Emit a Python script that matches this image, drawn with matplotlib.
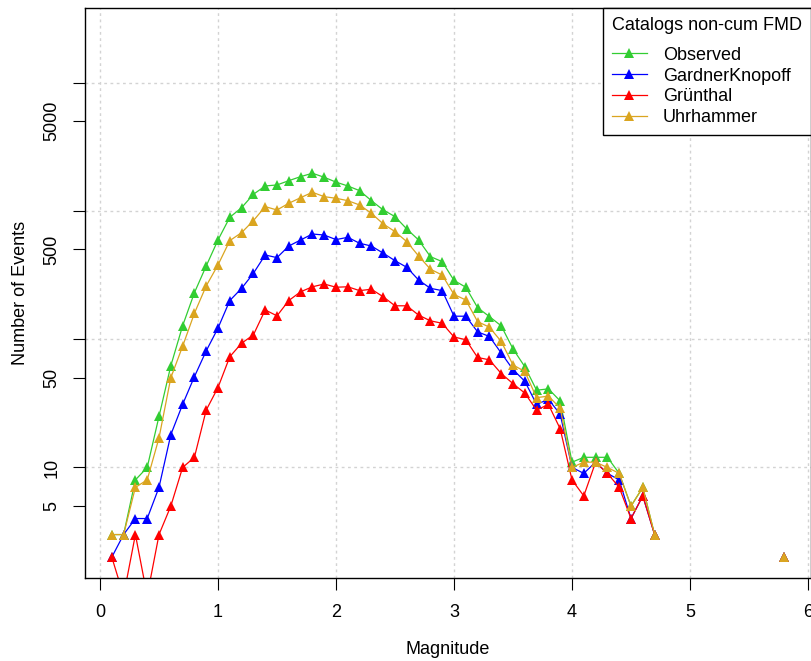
import numpy as np
import matplotlib
matplotlib.use("Agg")
import matplotlib.pyplot as plt

# Non-cumulative frequency-magnitude distribution for several declustered catalogs
nan = np.nan

magnitude = [0.1, 0.2, 0.3, 0.4, 0.5, 0.6, 0.7, 0.8, 0.9, 1.0,
             1.1, 1.2, 1.3, 1.4, 1.5, 1.6, 1.7, 1.8, 1.9, 2.0,
             2.1, 2.2, 2.3, 2.4, 2.5, 2.6, 2.7, 2.8, 2.9, 3.0,
             3.1, 3.2, 3.3, 3.4, 3.5, 3.6, 3.7, 3.8, 3.9, 4.0,
             4.1, 4.2, 4.3, 4.4, 4.5, 4.6, 4.7, 4.8, 4.9, 5.0,
             5.1, 5.2, 5.3, 5.4, 5.5, 5.6, 5.7, 5.8]

observed = [3, 3, 8, 10, 25, 62, 127, 230, 372, 593,
            891, 1059, 1346, 1563, 1592, 1719, 1848, 1964, 1827, 1675,
            1563, 1437, 1201, 1016, 902, 722, 593, 440, 402, 287,
            254, 176, 150, 127, 84, 61, 40, 41, 33, 11,
            12, 12, 12, 9, 5, 7, 3, nan, nan, nan,
            nan, nan, nan, nan, nan, nan, nan, 2]

gardner_knopoff = [2, 3, 4, 4, 7, 18, 31, 51, 81, 122,
                   200, 249, 326, 453, 432, 532, 593, 660, 648, 597,
                   622, 559, 532, 468, 409, 363, 289, 249, 239, 151,
                   151, 114, 105, 78, 58, 47, 31, 34, 26, 10,
                   9, 11, 9, 8, 4, 6, 3, nan, nan, nan,
                   nan, nan, nan, nan, nan, nan, nan, 2]

gruenthal = [2, 1, 3, 1, 3, 5, 10, 12, 28, 42,
             73, 93, 108, 169, 152, 200, 234, 256, 269, 254,
             256, 239, 245, 214, 182, 182, 154, 139, 133, 104,
             99, 72, 69, 54, 45, 38, 28, 31, 20, 8,
             6, 11, 9, 7, 4, 6, 3, nan, nan, nan,
             nan, nan, nan, nan, nan, nan, nan, 2]

uhrhammer = [3, 3, 7, 8, 17, 50, 88, 159, 260, 379,
             586, 677, 839, 1079, 1016, 1146, 1267, 1396, 1290, 1253,
             1201, 1111, 957, 791, 689, 575, 445, 351, 316, 223,
             202, 137, 124, 96, 63, 56, 35, 36, 29, 10,
             11, 11, 10, 9, 5, 7, 3, nan, nan, nan,
             nan, nan, nan, nan, nan, nan, nan, 2]

series_names = ["Observed", "GardnerKnopoff", "Grünthal", "Uhrhammer"]
series_colors = ["limegreen", "blue", "red", "goldenrod"]

y_ticks = [5, 10, 50, 100, 500, 1000, 5000, 10000]
y_tick_labels = ["5", "10", "50", "", "500", "", "5000", ""]
x_ticks = [0, 1, 2, 3, 4, 5, 6]

plt.rcParams["font.family"] = ["Liberation Sans", "DejaVu Sans"]
plt.rcParams["font.size"] = 13

W, H = 811, 661
fig = plt.figure(figsize=(W / 100, H / 100), dpi=100)
# plot region in pixels: left 84.9, right 811.3, top 7.5, bottom 578
ax = fig.add_axes([84.9 / W, (H - 578) / H, 726.4 / W, 570.5 / H])

for vals, name, col in zip([observed, gardner_knopoff, gruenthal, uhrhammer],
                           series_names, series_colors):
    ax.plot(magnitude, vals, color=col, lw=0.9, marker="^", ms=6.5,
            markeredgewidth=0, label=name)

ax.set_yscale("log")
ax.set_xlim(-0.128, 6.028)
ax.set_ylim(1.376, 38450)

# grid like R's grid(): dotted light gray at decades and integer magnitudes
for xv in x_ticks:
    ax.axvline(xv, color="#d3d3d3", lw=1, ls=(0, (2, 2.5)), zorder=0)
for yv in [10, 100, 1000, 10000]:
    ax.axhline(yv, color="#d3d3d3", lw=1, ls=(0, (2, 2.5)), zorder=0)

ax.set_xticks(x_ticks)
ax.set_yticks(y_ticks)
ax.set_yticklabels(y_tick_labels, rotation=90, va="center")
ax.yaxis.set_minor_locator(matplotlib.ticker.NullLocator())
ax.tick_params(axis="both", direction="out", length=8.6, width=0.8,
               color="black", labelsize=13)
ax.tick_params(axis="x", pad=10)
ax.tick_params(axis="y", pad=9)

for sp in ax.spines.values():
    sp.set_linewidth(1)
    sp.set_color("black")

ax.set_xlabel("Magnitude", fontsize=13, va="center")
ax.xaxis.set_label_coords(0.5, -(650 - 578) / 570.5)
ax.set_ylabel("Number of Events", fontsize=13, va="center")
ax.yaxis.set_label_coords(-(84.9 - 21) / 726.4, 0.5)

leg = ax.legend(title="Catalogs non-cum FMD", loc="upper right",
                bbox_to_anchor=(1.0, 1.0), borderaxespad=0, frameon=True,
                fancybox=False, framealpha=1, edgecolor="black",
                handlelength=1.9, handletextpad=0.9, labelspacing=0.21,
                borderpad=0.5, fontsize=13, title_fontsize=13)
leg.get_frame().set_linewidth(1)
leg._legend_box.align = "left"
leg._legend_box.sep = 9.5

fig.savefig("out.png", dpi=100)
